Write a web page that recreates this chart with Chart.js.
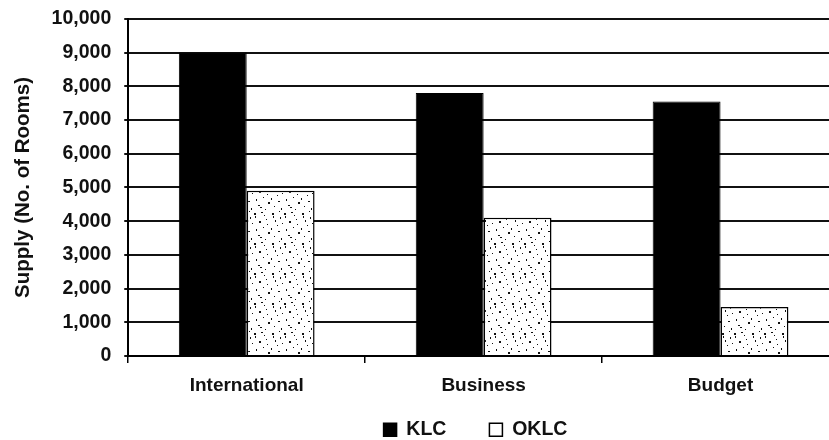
<!DOCTYPE html>
<html>
<head>
<meta charset="utf-8">
<script src="https://cdn.jsdelivr.net/npm/chart.js@4"></script>
<style>
  html, body { margin: 0; padding: 0; background: #fff; overflow: hidden; }
  #wrap { width: 940px; height: 440px; }
</style>
</head>
<body>
<div id="wrap"><canvas id="supply-chart"></canvas></div>
<script>
// room supply by hotel class

const categories = ['International', 'Business', 'Budget'];
const klcRooms = [9000, 7800, 7550];
const oklcRooms = [4900, 4100, 1450];
const yTicks = [0, 1000, 2000, 3000, 4000, 5000, 6000, 7000, 8000, 9000, 10000];

// speckled fill for the OKLC bars
const specks = [
  [2, 3], [9, 1], [15, 6], [21, 2], [5, 10], [12, 13], [19, 11], [26, 9],
  [1, 18], [8, 21], [16, 19], [23, 17], [28, 22], [4, 26], [11, 28], [18, 25],
  [25, 29], [7, 15], [14, 3], [27, 14], [3, 6], [20, 27], [10, 7], [24, 5]
];
function speckle() {
  const c = document.createElement('canvas');
  c.width = 30; c.height = 30;
  const g = c.getContext('2d');
  g.fillStyle = '#fff';
  g.fillRect(0, 0, 30, 30);
  g.fillStyle = '#111';
  specks.forEach(function (p, i) {
    g.fillRect(p[0], p[1], i % 3 === 0 ? 2 : 1, i % 2 === 0 ? 2 : 1);
  });
  return g.createPattern(c, 'repeat');
}

const family = "'Liberation Sans', Arial, sans-serif";

const ctx = document.getElementById('supply-chart').getContext('2d');
new Chart(ctx, {
  type: 'bar',
  data: {
    labels: categories,
    datasets: [
      {
        label: 'KLC',
        data: klcRooms,
        backgroundColor: '#000',
        borderColor: '#000',
        borderWidth: 1
      },
      {
        label: 'OKLC',
        data: oklcRooms,
        backgroundColor: speckle(),
        borderColor: '#000',
        borderWidth: 1.5
      }
    ]
  },
  options: {
    responsive: true,
    maintainAspectRatio: false,
    animation: false,
    layout: { padding: { top: 0, left: 11, right: 0, bottom: 0 } },
    datasets: { bar: { categoryPercentage: 0.573, barPercentage: 1.0 } },
    scales: {
      x: {
        grid: { drawOnChartArea: false, tickLength: 7, color: '#000', lineWidth: 1.5 },
        border: { display: true, color: '#000', width: 2 },
        ticks: { color: '#111', font: { family: family, size: 19, weight: 'bold' }, padding: 11 },
        // keep the axis box thin; its labels hang below into the legend strip
        afterFit: function (s) {
          s.height = 21;
          s._computeLabelArea = function () {};
        }
      },
      y: {
        min: 0,
        max: 10000,
        afterBuildTicks: function (axis) {
          axis.ticks = yTicks.map(function (v) { return { value: v }; });
        },
        grid: { color: '#111', lineWidth: 2, tickLength: 4 },
        border: { display: true, color: '#000', width: 2 },
        ticks: {
          color: '#111',
          font: { family: family, size: 19.5, weight: 'bold', lineHeight: 0.6 },
          padding: 13,
          callback: function (v) { return v.toLocaleString('en-US'); }
        },
        title: {
          display: true,
          text: 'Supply (No. of Rooms)',
          color: '#111',
          font: { family: family, size: 20.5, weight: 'bold' },
          padding: { top: 0, bottom: 3 }
        }
      },
      // empty strip on the right so the legend sits where it should
      pad: {
        type: 'linear',
        position: 'right',
        display: true,
        grid: { display: false },
        border: { display: false },
        ticks: { display: false },
        afterFit: function (s) { s.width = 101; }
      }
    },
    plugins: {
      tooltip: { enabled: false },
      legend: {
        position: 'bottom',
        maxHeight: 63,
        labels: {
          color: '#111',
          font: { family: family, size: 19.5, weight: 'bold' },
          boxWidth: 13,
          boxHeight: 13,
          padding: 43,
          generateLabels: function (chart) {
            return Chart.defaults.plugins.legend.labels.generateLabels(chart).map(function (item) {
              if (item.datasetIndex === 1) item.fillStyle = '#fff';
              item.lineWidth = 1.5;
              return item;
            });
          }
        }
      }
    }
  }
});
</script>
</body>
</html>
